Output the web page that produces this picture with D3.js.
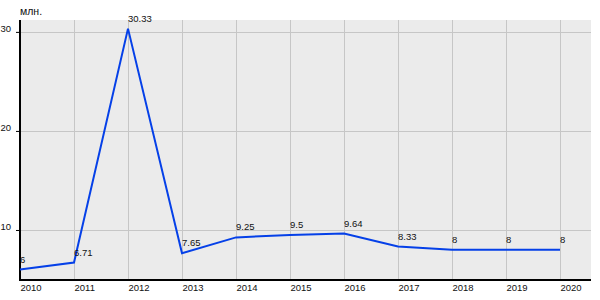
<!DOCTYPE html>
<html lang="ru">
  <head>
    <meta charset="UTF-8" />
    <title>Chart</title>
  </head>
  <style>
    body { margin: 0; background: #fff; }
    svg text { font-family: Arial, 'Liberation Sans', sans-serif; font-size: 9.5px; fill: #111; }
  </style>
  <body>
    <svg id="svg" width="600" height="300"></svg>

    <script src="https://d3js.org/d3.v7.min.js"></script>
    <script>
      const years = [2010, 2011, 2012, 2013, 2014, 2015, 2016, 2017, 2018, 2019, 2020];
      const values = [6, 6.71, 30.33, 7.65, 9.25, 9.5, 9.64, 8.33, 8, 8, 8];
      const valueLabels = ['6', '6.71', '30.33', '7.65', '9.25', '9.5', '9.64', '8.33', '8', '8', '8'];
      const yTicks = [10, 20, 30];
      const unitLabel = 'млн.';

      const plotL = 20, plotR = 591, plotT = 20, plotB = 280;
      const svg = d3.select('#svg');

      const x = d3.scaleLinear().domain([2010, 2020]).range([plotL, 560]);
      const y = d3.scaleLinear().domain([4.95, 31.2]).range([plotB, plotT]);

      // plot background
      svg.append('rect')
        .attr('x', plotL).attr('y', plotT)
        .attr('width', plotR - plotL).attr('height', plotB - plotT)
        .attr('fill', '#ebebeb');

      // grid
      svg.append('g').selectAll('line')
        .data(years).enter().append('line')
        .attr('x1', (d) => x(d) + 0.5).attr('x2', (d) => x(d) + 0.5)
        .attr('y1', plotT).attr('y2', plotB)
        .attr('stroke', '#c6c6c6');
      svg.append('g').selectAll('line')
        .data(yTicks).enter().append('line')
        .attr('x1', plotL).attr('x2', plotR)
        .attr('y1', (d) => Math.round(y(d)) + 0.5).attr('y2', (d) => Math.round(y(d)) + 0.5)
        .attr('stroke', '#c6c6c6');

      // axes
      const yAxis = svg.append('g')
        .attr('transform', `translate(${plotL},0)`)
        .call(d3.axisLeft(y).tickValues(yTicks).tickSize(4).tickPadding(5));
      yAxis.select('.domain').remove();
      yAxis.selectAll('line').attr('stroke', '#000');
      yAxis.selectAll('text')
        .attr('font-size', 9.5).attr('fill', '#111').attr('dy', '0').attr('y', -0.5)
        .style('font-family', 'Arial');

      const xAxis = svg.append('g')
        .attr('transform', `translate(0,${plotB})`)
        .call(d3.axisBottom(x).tickValues(years).tickFormat(d3.format('d')).tickSize(0).tickPadding(4));
      xAxis.select('.domain').remove();
      xAxis.selectAll('text')
        .attr('font-size', 9.5).attr('fill', '#111').attr('text-anchor', 'start')
        .style('font-family', 'Arial');

      svg.append('line')
        .attr('x1', plotL).attr('x2', plotL).attr('y1', plotT).attr('y2', plotB + 1)
        .attr('stroke', '#000').attr('stroke-width', 2);
      svg.append('line')
        .attr('x1', plotL - 1).attr('x2', plotR).attr('y1', plotB).attr('y2', plotB)
        .attr('stroke', '#000').attr('stroke-width', 2);

      svg.append('text')
        .attr('x', plotL).attr('y', 15)
        .style('font-size', '10.5px')
        .text(unitLabel);

      // line
      const line = d3.line().x((d, i) => x(years[i])).y((d) => y(d));
      svg.append('path')
        .datum(values)
        .attr('d', line)
        .attr('fill', 'none')
        .attr('stroke', '#0540e8')
        .attr('stroke-width', 2);

      // value labels
      svg.append('g').selectAll('text')
        .data(values).enter().append('text')
        .attr('x', (d, i) => x(years[i]))
        .attr('y', (d) => y(d) - 7)
        .text((d, i) => valueLabels[i]);
    </script>
  </body>
</html>
